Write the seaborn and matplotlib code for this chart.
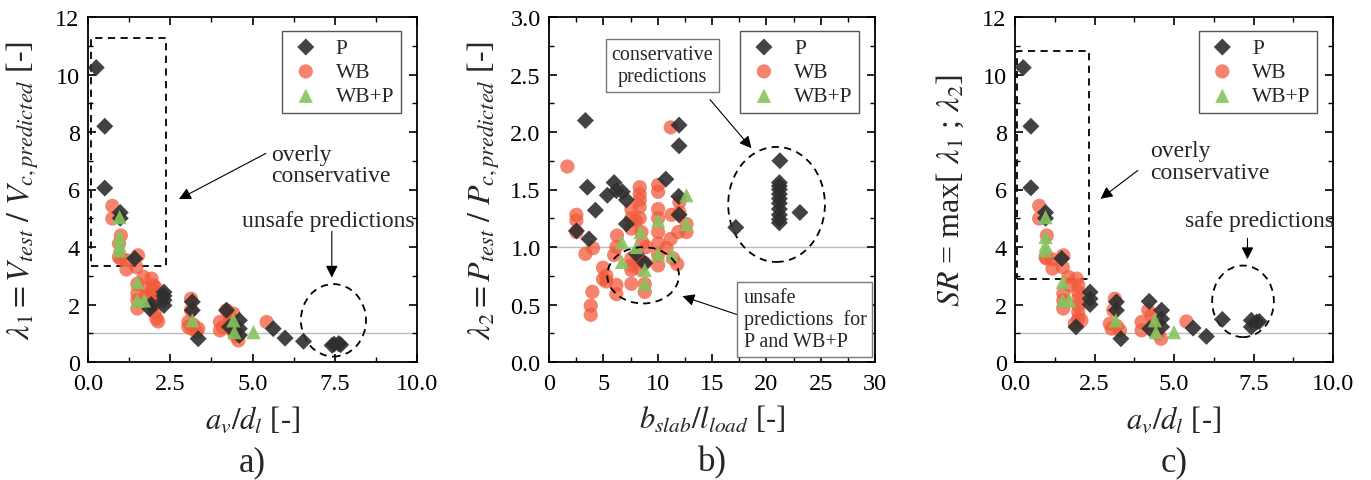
import numpy as np
import pandas as pd
import matplotlib
matplotlib.use("Agg")
import matplotlib.pyplot as plt
import seaborn as sns
from matplotlib.patches import Rectangle, Ellipse
from matplotlib.ticker import MultipleLocator

# ---------------- data ----------------
# panel a: lambda1 vs a_v/d_l
a_P_x = [0.25, 0.51, 0.51, 0.98, 0.98, 1.42, 1.88, 1.92, 2.31, 2.31, 2.31, 2.31, 3.17, 3.17, 3.35,
         4.21, 4.30, 4.60, 4.60, 4.60, 5.63, 5.99, 6.55, 7.42, 7.48, 7.62, 7.68]
a_P_y = [10.24, 8.2, 6.05, 5.2, 5.0, 3.6, 1.85, 2.0, 2.43, 2.3, 2.15, 1.97, 2.09, 1.8, 0.81,
         1.8, 1.22, 1.45, 1.16, 0.93, 1.16, 0.83, 0.72, 0.58, 0.62, 0.64, 0.6]
a_WB_x = [0.74, 0.74, 1.0, 0.94, 0.94, 0.99, 1.17, 1.17, 1.52, 1.47, 1.5, 1.5, 1.5, 1.5, 1.69, 1.78,
          1.78, 1.93, 1.98, 2.0, 2.0, 2.0, 2.03, 2.08, 2.13, 1.93, 1.95, 2.05, 3.13, 3.13, 3.05, 3.05,
          3.15, 3.3, 3.35, 3.2, 4.01, 4.01, 4.21, 4.31, 4.31, 4.42, 4.42, 4.57, 4.5, 4.1, 5.43]
a_WB_y = [5.43, 4.99, 4.4, 4.12, 3.65, 3.6, 3.54, 3.22, 3.71, 3.3, 2.72, 2.38, 2.14, 1.86, 2.96, 2.55,
          2.3, 2.9, 2.67, 2.43, 2.2, 1.97, 1.74, 1.51, 1.41, 2.09, 2.5, 2.6, 2.2, 1.8, 1.39, 1.22,
          1.16, 1.04, 1.16, 1.3, 1.39, 1.1, 1.8, 1.57, 1.39, 1.68, 1.04, 0.75, 0.9, 1.2, 1.39]
a_WBP_x = [0.96, 0.96, 0.96, 0.96, 1.5, 1.5, 1.7, 3.17, 4.42, 4.45, 5.03]
a_WBP_y = [5.04, 4.35, 4.06, 3.88, 2.78, 2.14, 2.14, 1.45, 1.45, 1.04, 1.04]

# panel b: lambda2 vs b_slab/l_load
b_P_x = [3.35, 3.53, 3.68, 2.52, 4.27, 5.37, 5.99, 6.2, 6.75, 7.12, 7.12, 8.04, 8.81, 10.75, 11.97,
         11.97, 11.94, 11.97, 17.19, 21.25, 21.2, 21.2, 21.2, 21.2, 21.2, 21.2, 21.2, 21.2, 21.2,
         21.2, 23.09]
b_P_y = [2.10, 1.52, 1.07, 1.14, 1.32, 1.45, 1.56, 1.49, 1.48, 1.41, 1.2, 0.94, 0.86, 1.59, 2.06,
         1.88, 1.44, 1.28, 1.17, 1.75, 1.56, 1.53, 1.5, 1.46, 1.42, 1.38, 1.33, 1.28, 1.24,
         1.21, 1.30]
b_WB_x = [1.69, 2.52, 2.52, 2.52, 3.35, 4.05, 3.99, 3.84, 3.84, 4.97, 4.97, 5.28, 5.28, 6.26, 6.2,
          6.2, 6.2, 5.99, 7.58, 7.58, 7.58, 7.58, 7.58, 7.58, 7.58, 7.98, 8.35, 8.35, 8.35, 8.35,
          8.35, 8.5, 8.6, 8.35, 8.35, 8.81, 8.81, 8.81, 10.04, 10.04, 10.04, 10.04, 10.04, 10.04,
          10.04, 10.04, 10.81, 11.27, 11.2, 11.2, 11.42, 11.8, 12.0, 12.0, 12.65, 12.65, 11.9, 8.96]
b_WB_y = [1.70, 1.28, 1.23, 1.13, 0.94, 0.99, 0.61, 0.49, 0.41, 0.82, 0.72, 0.70, 0.75, 1.10, 1.0,
          0.67, 0.59, 0.93, 1.33, 1.25, 1.16, 0.9, 0.84, 0.8, 0.68, 1.23, 1.52, 1.46, 1.41, 1.35,
          1.25, 1.13, 1.04, 0.88, 0.81, 0.68, 0.61, 0.86, 1.54, 1.48, 1.33, 1.25, 1.13, 1.03,
          0.93, 0.84, 0.99, 1.28, 1.07, 2.04, 0.9, 0.85, 1.39, 1.3, 1.13, 1.2, 1.13, 1.0]
b_WBP_x = [6.72, 6.72, 8.04, 8.41, 8.81, 8.81, 10.04, 10.04, 11.33, 12.65, 12.65]
b_WBP_y = [1.04, 0.87, 1.0, 1.13, 0.80, 0.68, 1.23, 0.94, 0.93, 1.45, 1.2]

# panel c: SR vs a_v/d_l
c_P_x = [0.26, 0.5, 0.5, 0.96, 0.96, 1.47, 1.92, 2.36, 2.36, 2.36, 3.19, 3.19, 3.33, 4.22, 4.24,
         4.61, 4.61, 4.61, 5.6, 6.02, 6.52, 7.43, 7.43, 7.6, 7.68]
c_P_y = [10.24, 8.2, 6.06, 5.2, 5.0, 3.6, 1.22, 2.43, 2.2, 2.0, 2.09, 1.8, 0.81, 2.11, 1.16,
         1.8, 1.5, 1.22, 1.18, 0.89, 1.48, 1.45, 1.22, 1.39, 1.41]
c_WB_x = [0.76, 0.76, 1.0, 0.96, 0.99, 1.18, 1.18, 1.52, 1.5, 1.52, 1.52, 1.52, 1.68, 1.73, 1.94,
          1.99, 1.99, 1.99, 1.99, 1.99, 1.99, 2.09, 1.88, 2.98, 3.04, 3.09, 3.14, 3.3, 3.2, 3.98,
          3.98, 4.19, 4.29, 4.35, 4.59, 4.5, 5.39]
c_WB_y = [5.43, 4.99, 4.4, 3.65, 3.6, 3.57, 3.25, 3.71, 3.3, 2.38, 2.14, 1.86, 2.96, 2.67, 2.9,
          2.67, 2.43, 2.2, 1.97, 1.74, 1.51, 1.45, 1.33, 1.33, 1.16, 1.8, 2.2, 1.1, 1.25, 1.39,
          1.1, 1.8, 1.62, 1.3, 0.81, 1.0, 1.41]
c_WBP_x = [0.96, 0.96, 0.96, 0.96, 1.5, 1.5, 1.71, 3.17, 4.4, 4.43, 5.0]
c_WBP_y = [5.04, 4.35, 4.06, 3.88, 2.78, 2.14, 2.14, 1.45, 1.45, 1.04, 1.04]

series_labels = ["P", "WB", "WB+P"]

# ---------------- style ----------------
sns.set_theme(style="white")
plt.rcParams["font.family"] = ["Liberation Serif", "DejaVu Serif"]
plt.rcParams["mathtext.fontset"] = "stix"
plt.rcParams["xtick.direction"] = "in"
plt.rcParams["ytick.direction"] = "in"

col_P = "#2e2e2e"
col_WB = "#f25a3c"
col_WBP = "#86c45e"

fig = plt.figure(figsize=(13.71, 4.81), dpi=100)
axa = fig.add_axes([88 / 1371, 118 / 481, 329 / 1371, 345 / 481])
axb = fig.add_axes([549 / 1371, 118 / 481, 326 / 1371, 345 / 481])
axc = fig.add_axes([1015 / 1371, 118 / 481, 318 / 1371, 345 / 481])


def draw(ax, px, py, wx, wy, tx, ty):
    ax.axhline(1.0, color="#bbbbbb", lw=1.0, zorder=0)
    sns.scatterplot(x=px, y=py, ax=ax, marker="D", s=75, color=col_P, edgecolor="none",
                    alpha=0.9, label=series_labels[0], zorder=3)
    sns.scatterplot(x=wx, y=wy, ax=ax, marker="o", s=105, color=col_WB, edgecolor="none",
                    alpha=0.75, label=series_labels[1], zorder=2)
    sns.scatterplot(x=tx, y=ty, ax=ax, marker="^", s=105, color=col_WBP, edgecolor="none",
                    alpha=0.9, label=series_labels[2], zorder=4)
    for s in ax.spines.values():
        s.set_color("black")
        s.set_linewidth(1.3)
    ax.tick_params(which="both", top=True, right=True, left=True, bottom=True,
                   direction="in", labelsize=17.5, colors="black")
    ax.tick_params(which="major", length=6, width=1.2)
    ax.tick_params(which="minor", length=3.5, width=1.0)
    ax.tick_params(axis="x", which="major", pad=8)
    ax.tick_params(axis="y", which="major", pad=6)
    leg = ax.legend(loc="upper right", bbox_to_anchor=(0.951, 0.959), fontsize=15.5,
                    frameon=True, fancybox=False, edgecolor="#555555", framealpha=1,
                    handletextpad=0.6, labelspacing=0.2, borderpad=0.3, handlelength=1.6,
                    borderaxespad=0)
    leg.get_frame().set_linewidth(1.0)


draw(axa, a_P_x, a_P_y, a_WB_x, a_WB_y, a_WBP_x, a_WBP_y)
draw(axb, b_P_x, b_P_y, b_WB_x, b_WB_y, b_WBP_x, b_WBP_y)
draw(axc, c_P_x, c_P_y, c_WB_x, c_WB_y, c_WBP_x, c_WBP_y)

for ax in (axa, axc):
    ax.set_xlim(0, 10)
    ax.set_ylim(0, 12)
    ax.xaxis.set_major_locator(MultipleLocator(2.5))
    ax.xaxis.set_minor_locator(MultipleLocator(1.25))
    ax.yaxis.set_major_locator(MultipleLocator(2))
    ax.yaxis.set_minor_locator(MultipleLocator(1))
    ax.set_xticklabels([f"{v:.1f}" for v in ax.get_xticks()])
    ax.set_xlabel(r"$a_{v}/d_{l}$ [-]", fontsize=22, labelpad=7)

axb.set_xlim(0, 30)
axb.set_ylim(0, 3)
axb.xaxis.set_major_locator(MultipleLocator(5))
axb.xaxis.set_minor_locator(MultipleLocator(2.5))
axb.yaxis.set_major_locator(MultipleLocator(0.5))
axb.yaxis.set_minor_locator(MultipleLocator(0.25))
axb.set_yticklabels([f"{v:.1f}" for v in axb.get_yticks()])
axb.set_xlabel(r"$b_{slab}/l_{load}$ [-]", fontsize=22, labelpad=7)

axa.set_ylabel(r"$\lambda_{\mathit{1}} = V_{test}\ /\ V_{c,predicted}$ [-]", fontsize=23, labelpad=10)
axb.set_ylabel(r"$\lambda_{\mathit{2}} = P_{test}\ /\ P_{c,predicted}$ [-]", fontsize=23, labelpad=6)
axc.set_ylabel(r"$SR$ = max[ $\lambda_{\mathit{1}}$ ; $\lambda_{\mathit{2}}$]", fontsize=23, labelpad=12)

arrow_kw = dict(arrowstyle="-|>", color="black", lw=0.8, mutation_scale=18)

# panel a annotations
axa.add_patch(Rectangle((0.1, 3.33), 2.28, 7.95, fill=False, ls=(0, (4, 3)), lw=1.3, ec="black"))
axa.text(5.58, 6.85, "overly\nconservative", fontsize=17, ha="left", va="center", linespacing=1.05)
axa.annotate("", xy=(2.69, 5.62), xytext=(5.48, 7.3), arrowprops=arrow_kw)
axa.text(7.31, 4.93, "unsafe predictions", fontsize=17, ha="center", va="center")
axa.annotate("", xy=(7.41, 2.84), xytext=(7.41, 4.64), arrowprops=arrow_kw)
axa.add_patch(Ellipse((7.46, 1.45), 1.98, 2.52, fill=False, ls=(0, (4, 3)), lw=1.3, ec="black"))

# panel b annotations
axb.text(10.45, 2.58, "conservative\npredictions", fontsize=14.5, ha="center", va="center",
         linespacing=1.2,
         bbox=dict(boxstyle="square,pad=0.3", fc="white", ec="#777777", lw=1.0))
axb.annotate("", xy=(18.8, 1.84), xytext=(14.65, 2.30), arrowprops=arrow_kw)
axb.add_patch(Ellipse((20.94, 1.37), 8.9, 1.0, fill=False, ls=(0, (4, 3)), lw=1.3, ec="black"))
axb.add_patch(Ellipse((8.66, 0.754), 6.6, 0.49, fill=False, ls=(0, (4, 3)), lw=1.3, ec="black",
                      zorder=5))
axb.text(17.9, 0.37, "unsafe\npredictions  for\nP and WB+P", fontsize=14.5, ha="left", va="center",
         linespacing=1.2,
         bbox=dict(boxstyle="square,pad=0.3", fc="white", ec="#777777", lw=1.0))
axb.annotate("", xy=(12.04, 0.58), xytext=(17.5, 0.406), arrowprops=arrow_kw)

# panel c annotations
axc.add_patch(Rectangle((0.05, 2.9), 2.27, 7.92, fill=False, ls=(0, (4, 3)), lw=1.3, ec="black"))
axc.text(4.24, 6.98, "overly\nconservative", fontsize=17, ha="left", va="center", linespacing=1.05)
axc.annotate("", xy=(2.62, 5.62), xytext=(3.93, 6.72), arrowprops=arrow_kw)
axc.text(7.7, 4.93, "safe predictions", fontsize=17, ha="center", va="center")
axc.annotate("", xy=(7.31, 3.48), xytext=(7.31, 4.4), arrowprops=arrow_kw)
axc.add_patch(Ellipse((7.17, 2.11), 1.94, 2.49, fill=False, ls=(0, (4, 3)), lw=1.3, ec="black"))

# panel letters
fig.text((88 + 417) / 2 / 1371, 1 - 463 / 481, "a)", fontsize=25, ha="center", va="center")
fig.text((549 + 875) / 2 / 1371, 1 - 463 / 481, "b)", fontsize=25, ha="center", va="center")
fig.text((1015 + 1333) / 2 / 1371, 1 - 463 / 481, "c)", fontsize=25, ha="center", va="center")

fig.savefig("out.png", dpi=100)
